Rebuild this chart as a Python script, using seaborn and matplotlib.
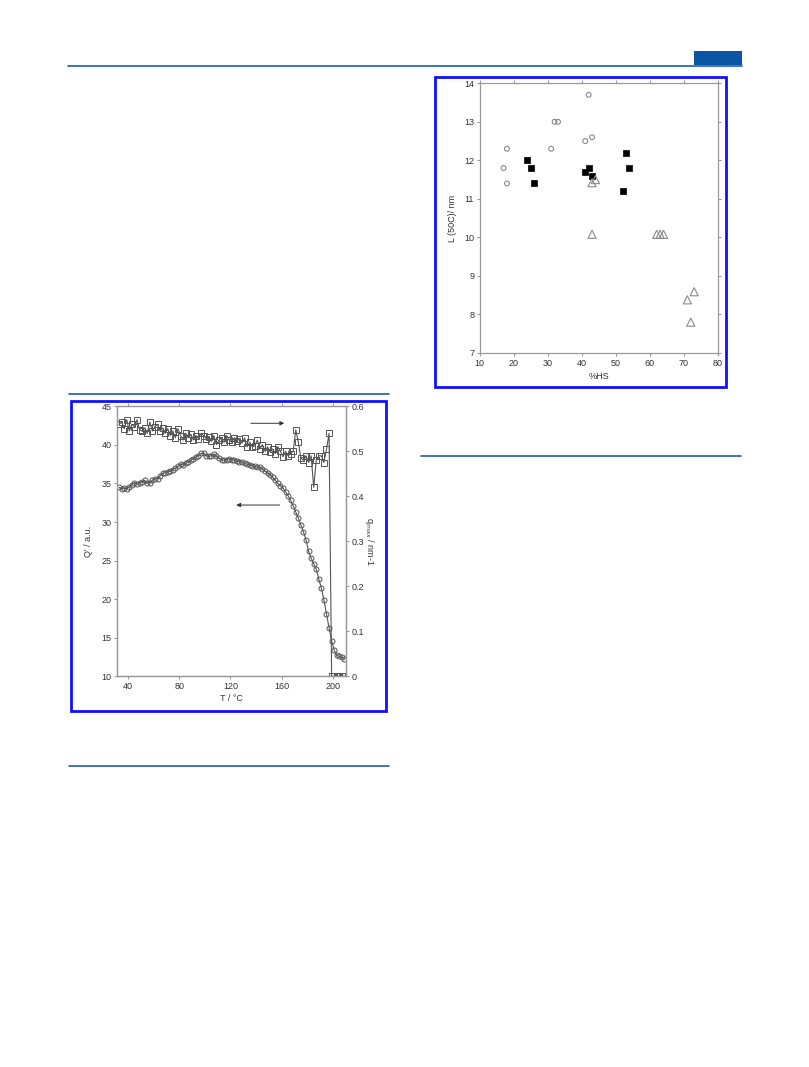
import numpy as np
import pandas as pd
import matplotlib
matplotlib.use("Agg")
import matplotlib.pyplot as plt
from matplotlib.patches import Rectangle
from matplotlib.lines import Line2D
import seaborn as sns

# right chart: L(50C) vs %HS, three sample groups
hs_circles = [17, 18, 18, 31, 32, 33, 41, 42, 43]
L_circles = [11.8, 12.3, 11.4, 12.3, 13.0, 13.0, 12.5, 13.7, 12.6]
hs_squares = [24, 25, 26, 41, 42, 43, 52, 53, 54]
L_squares = [12.0, 11.8, 11.4, 11.7, 11.8, 11.6, 11.2, 12.2, 11.8]
hs_triangles = [43, 44, 43, 62, 63, 64, 71, 72, 73]
L_triangles = [11.42, 11.5, 10.08, 10.08, 10.08, 10.08, 8.38, 7.8, 8.59]

# left chart: Q' and q_max vs temperature
T = [33, 35, 37, 39, 41, 43, 45, 47, 49, 51, 53, 55, 57, 59, 61, 63, 65, 67,
     69, 71, 73, 75, 77, 79, 81, 83, 85, 87, 89, 91, 93, 95, 97, 99, 101, 103,
     105, 107, 109, 111, 113, 115, 117, 119, 121, 123, 125, 127, 129, 131, 133,
     135, 137, 139, 141, 143, 145, 147, 149, 151, 153, 155, 157, 159, 161, 163,
     165, 167, 169, 171, 173, 175, 177, 179, 181, 183, 185, 187, 189, 191, 193,
     195, 197, 199, 201, 203, 205, 207, 209]
Q = [34.5, 34.3, 34.4, 34.3, 34.6, 34.8, 35.1, 34.9, 35.0, 35.2, 35.4, 35.0,
     35.1, 35.4, 35.6, 35.6, 36.0, 36.3, 36.4, 36.5, 36.6, 36.8, 37.0, 37.2,
     37.5, 37.4, 37.6, 37.8, 38.0, 38.2, 38.4, 38.6, 38.9, 38.9, 38.6, 38.5,
     38.6, 38.8, 38.5, 38.3, 38.1, 38.0, 38.1, 38.2, 38.1, 38.0, 37.9, 37.8,
     37.8, 37.6, 37.5, 37.4, 37.3, 37.2, 37.1, 37.1, 36.9, 36.6, 36.4, 36.1,
     35.8, 35.4, 35.0, 34.7, 34.4, 33.9, 33.4, 32.8, 32.1, 31.3, 30.5, 29.6,
     28.7, 27.7, 26.2, 25.3, 24.6, 23.9, 22.6, 21.4, 19.9, 18.1, 16.3, 14.6,
     13.4, 12.7, 12.6, 12.5, 12.3]
qmax = [0.56, 0.565, 0.55, 0.57, 0.545, 0.56, 0.555, 0.57, 0.548, 0.545, 0.552,
        0.54, 0.565, 0.545, 0.555, 0.56, 0.545, 0.552, 0.54, 0.55, 0.535, 0.545,
        0.53, 0.55, 0.535, 0.525, 0.54, 0.53, 0.538, 0.525, 0.535, 0.528, 0.54,
        0.535, 0.528, 0.532, 0.522, 0.535, 0.515, 0.525, 0.53, 0.52, 0.535,
        0.525, 0.52, 0.53, 0.522, 0.528, 0.518, 0.53, 0.51, 0.52, 0.51, 0.512,
        0.525, 0.505, 0.515, 0.5, 0.51, 0.498, 0.505, 0.495, 0.51, 0.5, 0.488,
        0.5, 0.49, 0.495, 0.5, 0.548, 0.52, 0.485, 0.48, 0.49, 0.475, 0.49, 0.42,
        0.48, 0.49, 0.49, 0.475, 0.505, 0.54, 0.0, 0.0, 0.0, 0.0, 0.0, 0.0]

sns.set_style("ticks")
plt.rcParams["font.family"] = ["Liberation Sans", "DejaVu Sans"]

W, H = 809, 1067
fig = plt.figure(figsize=(W / 100, H / 100), dpi=100)

def fx(px):
    return px / W

def fy(py):
    return 1 - py / H

spine_col = "#999999"
txt_col = "#333333"
fs = 6.5

def style_axes(ax):
    for s in ax.spines.values():
        s.set_color(spine_col)
        s.set_linewidth(0.9)
    ax.tick_params(colors=spine_col, labelcolor=txt_col, labelsize=fs,
                   length=2.5, width=0.8, pad=1.5)

# ---------------- right chart ----------------
axr = fig.add_axes([fx(479.7), fy(353), fx(718 - 479.7), (353 - 83.3) / H])
sns.scatterplot(x=hs_circles, y=L_circles, ax=axr, marker="o", s=12,
                facecolor="none", edgecolor="#8a8a8a", linewidth=0.8)
sns.scatterplot(x=hs_squares, y=L_squares, ax=axr, marker="s", s=16,
                color="black", edgecolor="black", linewidth=0.5)
sns.scatterplot(x=hs_triangles, y=L_triangles, ax=axr, marker="^", s=34,
                facecolor="none", edgecolor="#8a8a8a", linewidth=0.8)
axr.set_xlim(10, 80)
axr.set_ylim(7, 14)
axr.set_xticks(range(10, 81, 10))
axr.set_yticks(range(7, 15))
style_axes(axr)
axr.tick_params(top=True, right=True, direction="out")
axr.tick_params(axis="x", which="both", top=True)
axr.set_xlabel("%HS", fontsize=fs, color=txt_col, labelpad=3)
axr.set_ylabel("L (50C)/ nm", fontsize=fs, color=txt_col, labelpad=5)

# ---------------- left chart ----------------
axl = fig.add_axes([fx(117.3), fy(676.3), fx(345.7 - 117.3), (676.3 - 406.3) / H])
sns.lineplot(x=T, y=Q, ax=axl, color="#555555", linewidth=0.8, marker="o",
             markersize=3.6, markerfacecolor="none", markeredgecolor="#555555",
             markeredgewidth=0.7)
axl.set_xlim(31.6, 210)
axl.set_ylim(10, 45)
axl.set_xticks([40, 80, 120, 160, 200])
axl.set_yticks(range(10, 46, 5))
style_axes(axl)
axl.tick_params(axis="x", top=True)
axl.set_xlabel("T / °C", fontsize=fs, color=txt_col, labelpad=2)
axl.set_ylabel("Q' / a.u.", fontsize=fs, color=txt_col, labelpad=6)

ax2 = axl.twinx()
sns.lineplot(x=T, y=qmax, ax=ax2, color="#555555", linewidth=0.8, marker="s",
             markersize=4.2, markerfacecolor="none", markeredgecolor="#555555",
             markeredgewidth=0.7)
ax2.set_ylim(0, 0.6)
ax2.set_yticks([0, 0.1, 0.2, 0.3, 0.4, 0.5, 0.6])
ax2.set_yticklabels(["0", "0.1", "0.2", "0.3", "0.4", "0.5", "0.6"])
style_axes(ax2)
ax2.set_ylabel("q$_{max}$ / nm-1", fontsize=fs, color=txt_col, rotation=270,
               labelpad=9)

arrow_kw = dict(arrowstyle="-|>", color="#333333", lw=0.7,
                mutation_scale=6, shrinkA=0, shrinkB=0)
axl.annotate("", xy=(162, 42.8), xytext=(136, 42.8), arrowprops=arrow_kw)
axl.annotate("", xy=(124.5, 32.2), xytext=(158.5, 32.2), arrowprops=arrow_kw)

# ---------------- page decorations ----------------
frame_col = "#1010ff"
fig.add_artist(Rectangle((fx(435.3), fy(387)), fx(726 - 435.3), (387 - 77) / H,
                         fill=False, ec=frame_col, lw=2.0,
                         transform=fig.transFigure))
fig.add_artist(Rectangle((fx(70.5), fy(710.5)), fx(386 - 70.5), (710.5 - 401) / H,
                         fill=False, ec=frame_col, lw=2.0,
                         transform=fig.transFigure))

fig.add_artist(Rectangle((fx(694), fy(65)), fx(741.7 - 694), 14 / H,
                         fc="#0b55a5", ec="none", transform=fig.transFigure))
sep_col = "#1d5ea8"
for x0, x1, y in [(68, 741.7, 66.3), (69, 389, 394.3), (421, 741, 455.7),
                  (69, 389, 766)]:
    fig.add_artist(Line2D([fx(x0), fx(x1)], [fy(y), fy(y)], color=sep_col,
                          lw=1.2, transform=fig.transFigure))

fig.savefig("out.png", dpi=100)
